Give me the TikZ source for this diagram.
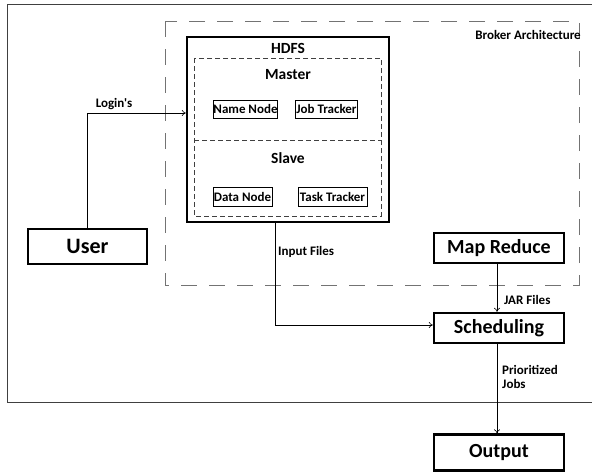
\documentclass[tikz,border=0pt]{standalone}
\usepackage{fontspec}
\setmainfont{Carlito}[Ligatures=TeXOff]
\usetikzlibrary{arrows.meta}
\begin{document}
\begin{tikzpicture}[x=1pt,y=-1pt,
  bigbox/.style={draw, line width=2.2pt, font=\bfseries\fontsize{20}{22}\selectfont, inner sep=0pt, minimum width=130pt, minimum height=30pt},
  smallbox/.style={draw, line width=0.6pt, font=\bfseries\fontsize{13}{14}\selectfont, inner sep=0pt, minimum height=18pt},
  lbl/.style={font=\bfseries\fontsize{13}{15}\selectfont, inner sep=0pt},
  head/.style={font=\bfseries\fontsize{15.5}{17}\selectfont, inner sep=0pt},
  arr/.style={-{To[length=4pt,width=6pt]}, line width=0.6pt}
]
\clip (0,0) rectangle (592,474);
% outer frame
\draw[line width=0.8pt, black!75] (600,4) -- (7,4) -- (7,402) -- (600,402);
% broker dashed region
\draw[line width=1pt, black!55, dash pattern=on 16pt off 12pt] (165,21) rectangle (579,285);
\node[lbl, anchor=east] (broker) at (581,35) {Broker Architecture};
% HDFS
\node[draw, line width=2.2pt, minimum width=202pt, minimum height=185pt, inner sep=0pt] (hdfs) at (288,129.5) {};
\draw[line width=0.7pt, black!75, dash pattern=on 5pt off 3pt] (194,58) rectangle (381,216);
\draw[line width=0.7pt, black!75, dash pattern=on 5pt off 3pt] (194,140) -- (381,140);
\node[head] (hdfslbl) at (288,48) {HDFS};
\node[head] (master) at (288,75) {Master};
\node[head] (slave) at (288,158) {Slave};
\node[smallbox, minimum width=61pt] (namenode) at (245.5,109) {Name Node};
\node[smallbox, minimum width=62pt] (jobtracker) at (326.5,109) {Job Tracker};
\node[smallbox, minimum width=59pt, minimum height=19pt] (datanode) at (242.5,196.5) {Data Node};
\node[smallbox, minimum width=69pt, minimum height=19pt] (tasktracker) at (332.5,196.5) {Task Tracker};
% other boxes
\node[bigbox, minimum width=119pt, minimum height=35pt, font=\bfseries\fontsize{22}{24}\selectfont] (user) at (87.5,246.5) {User};
\node[bigbox] (mapreduce) at (499,248) {Map Reduce};
\node[bigbox] (sched) at (499,328) {Scheduling};
\node[bigbox, minimum height=36pt] (output) at (499,452.5) {Output};
% connectors
\draw[arr] (user.north) |- ([yshift=16.5pt]hdfs.west);
\node[lbl] (login) at (114,104) {Login's};
\draw[arr] ([xshift=-13pt]hdfs.south) |- ([yshift=3pt]sched.west);
\node[lbl, anchor=west] (input) at (278,252) {Input Files};
\draw[arr] ([xshift=-2pt]mapreduce.south) -- ([xshift=-2pt]sched.north);
\node[lbl, anchor=west] (jar) at (504,300) {JAR Files};
\draw[arr] ([xshift=-2pt]sched.south) -- ([xshift=-2pt]output.north);
\node[lbl, anchor=north west, align=left] (prio) at (502,365) {Prioritized\\[-1pt]Jobs};
\end{tikzpicture}
\end{document}
